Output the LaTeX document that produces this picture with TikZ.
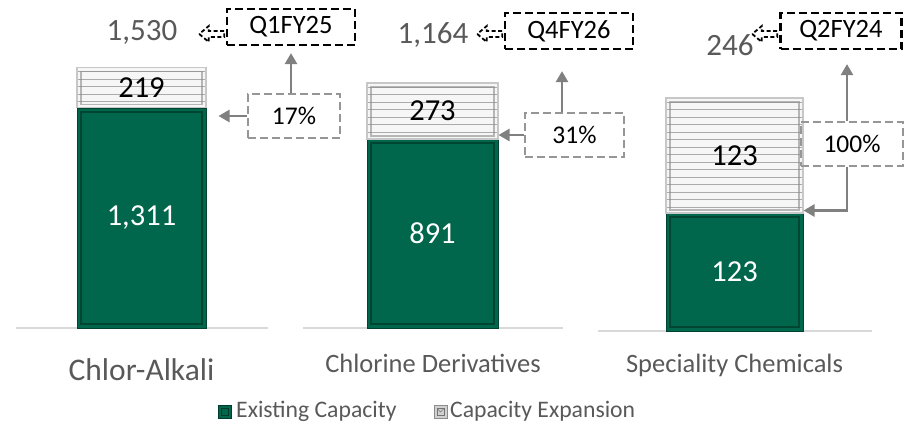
\documentclass[tikz,border=0pt]{standalone}
\usepackage{fontspec}
\setmainfont{Carlito}
\usetikzlibrary{shapes.arrows,arrows.meta,calc}
\definecolor{eg}{HTML}{00674C}
\definecolor{egd}{HTML}{003A2A}
\definecolor{tg}{HTML}{595959}
\definecolor{ag}{HTML}{808080}
\definecolor{bg}{HTML}{969696}
\definecolor{axc}{HTML}{D9D9D9}
\definecolor{stp}{HTML}{ABABAB}
\definecolor{expf}{HTML}{F6F6F6}
\newcommand\fsz[1]{\fontsize{#1}{#1}\selectfont}
\tikzset{
  existbox/.style={fill=eg, draw=egd!80!eg, line width=1pt, inner sep=0pt, text=white, font=\fsz{30.5},
    path picture={\draw[egd, line width=2.2pt, opacity=.75]
      ($(path picture bounding box.south west)+(4pt,4pt)$) rectangle
      ($(path picture bounding box.north east)+(-4pt,-4pt)$);}},
  expbox/.style={fill=expf, draw=black!22, line width=1.2pt, inner sep=0pt, text=black, font=\fsz{30.5},
    path picture={
      \foreach \k in {0,...,22}
        \draw[stp, line width=.7pt] ($(path picture bounding box.north west)+(0pt,{-4pt-\k*7.5pt})$) -- ++(300pt,0pt);
      \draw[black!45, line width=1.3pt, opacity=.6]
      ($(path picture bounding box.south west)+(4pt,3pt)$) rectangle
      ($(path picture bounding box.north east)+(-4pt,-4pt)$);
      \draw[black!50, line width=2pt] (path picture bounding box.south west) -- (path picture bounding box.south east);}},
  lgexist/.style={fill=eg, draw=egd, line width=.8pt, minimum size=13pt, inner sep=0pt,
    path picture={\draw[egd, line width=1pt] ($(path picture bounding box.south west)+(3pt,3pt)$) rectangle ($(path picture bounding box.north east)+(-3pt,-3pt)$);}},
  lgexp/.style={fill=black!18, draw=black!45, line width=.8pt, minimum size=13pt, inner sep=0pt,
    path picture={\draw[black!55, line width=.8pt] ($(path picture bounding box.south west)+(3pt,3pt)$) rectangle ($(path picture bounding box.north east)+(-3pt,-3pt)$);
      \draw[black!55, line width=.6pt] ($(path picture bounding box.north west)+(3pt,-3pt)$) -- (path picture bounding box.center) -- ($(path picture bounding box.north east)+(-3pt,-3pt)$);}},
  cat/.style={text=tg, inner sep=0pt},
  total/.style={text=tg, inner sep=0pt, font=\fsz{31}},
  qbox/.style={draw=black, dash pattern=on 8pt off 4pt, line width=2.2pt, minimum height=36pt, inner sep=0pt, font=\fsz{26.5}},
  pbox/.style={draw=bg, dash pattern=on 8pt off 4pt, line width=2pt, minimum height=44pt, inner sep=0pt, font=\fsz{25.5}},
  hollow/.style={single arrow, draw=black, dash pattern=on 4pt off 2.5pt, line width=1.8pt, shape border rotate=180,
    minimum height=25pt, minimum width=16pt, single arrow head extend=5pt, single arrow tip angle=80,
    inner sep=2pt, fill=white},
  garrow/.style={draw=ag, line width=2.5pt, -{Triangle[length=11pt,width=12pt]}},
  axisline/.style={draw=axc, line width=1.6pt},
  lgtext/.style={text=tg, inner sep=0pt, anchor=west, font=\fsz{23.7}}
}
\begin{document}
\begin{tikzpicture}[x=1pt,y=-1pt]
\useasboundingbox (0,0) rectangle (904,423);
% axis lines
\draw[axisline] (16,328) -- (268,328);
\draw[axisline] (303,328) -- (563,328);
\draw[axisline] (598,331) -- (872,331);
% bars
\node[existbox, minimum width=129pt, minimum height=220pt] (g1) at (141.5,218) {1,311};
\node[expbox, minimum width=129pt, minimum height=40pt] (e1) at (141.5,87.5) {219};
\node[existbox, minimum width=131pt, minimum height=189pt] (g2) at (432.5,233.5) {891};
\node[expbox, minimum width=131pt, minimum height=56pt] (e2) at (432.5,111) {273};
\node[existbox, minimum width=137pt, minimum height=118pt] (g3) at (734.5,272) {123};
\node[expbox, minimum width=137pt, minimum height=115pt] (e3) at (734.5,155.5) {123};
% category labels
\node[cat, font=\fsz{31.5}] (c1) at (141.5,370) {Chlor-Alkali};
\node[cat, font=\fsz{26.5}] (c2) at (433,363) {Chlorine Derivatives};
\node[cat, font=\fsz{26.5}] (c3) at (734.5,365) {Speciality Chemicals};
% totals
\node[total] (t1) at (142,32) {1,530};
\node[total] (t2) at (433,35) {1,164};
\node[total] (t3) at (730,45) {246};
% quarter boxes
\node[qbox, minimum width=128pt] (q1) at (291,27) {Q1FY25};
\node[qbox, minimum width=128pt] (q2) at (569,31) {Q4FY26};
\node[qbox, minimum width=121pt] (q3) at (841,31) {Q2FY24};
% hollow arrows
\node[hollow] (h1) at (213.5,34) {};
\node[hollow] (h2) at (491.5,34) {};
\node[hollow] (h3) at (766.5,34) {};
% percentage boxes
\node[pbox, minimum width=92pt] (p1) at (294,116) {17\%};
\node[pbox, minimum width=99pt] (p2) at (574.5,135) {31\%};
\node[pbox, minimum width=102pt] (p3) at (852,143.5) {100\%};
% connectors
\coordinate (u1) at (q1.south);
\coordinate (u2) at ($(q2.south)+(-7,0)$);
\coordinate (u3) at ($(q3.south)+(6,0)$);
\draw[garrow, shorten >=12pt] (p1.west) -- (p1.west -| g1.east);
\draw[garrow, shorten >=7pt] (p1.north -| u1) -- (u1);
\draw[garrow] (p2.west) -- (p2.west -| g2.east);
\draw[garrow, shorten >=21pt] (p2.north -| u2) -- (u2);
\draw[garrow, shorten >=14pt] (p3.north -| u3) -- (u3);
\draw[garrow] (p3.south -| u3) |- ($(g3.north east)+(0,-2)$);
% legend
\node[lgexist] (l1) at (225,412) {};
\node[lgtext] (l1t) at (236,411) {Existing Capacity};
\node[lgexp] (l2) at (440.5,412) {};
\node[lgtext] (l2t) at (450,411) {Capacity Expansion};
\end{tikzpicture}
\end{document}
